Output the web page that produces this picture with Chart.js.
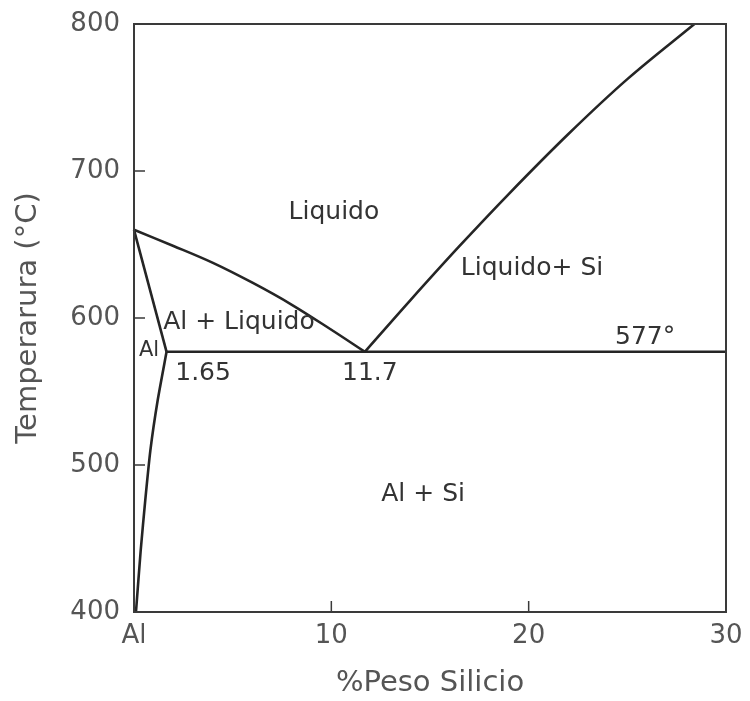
<!DOCTYPE html>
<html>
<head>
<meta charset="utf-8">
<script src="https://cdn.jsdelivr.net/npm/chart.js@4/dist/chart.umd.min.js"></script>
<style>html,body{margin:0;padding:0;background:#fff}canvas{display:block}</style>
</head>
<body>
<canvas id="c" width="750" height="701"></canvas>
<script>
// Liquidus (Al side)
const liqAlX = [0, 2, 4, 6, 8, 10, 11.7];
const liqAlY = [660, 649, 637.5, 624, 609, 592, 577];
// Solidus (Al)
const solX = [0, 1.65];
const solY = [660, 577];
// Solvus (Al)
const solvX = [1.65, 1.2, 0.83, 0.57, 0.34, 0.1];
const solvY = [577, 544, 510, 476, 442, 400];
// Liquidus (Si side)
const liqSiX = [11.7, 14, 16.5, 19, 22, 25, 28.4];
const liqSiY = [577, 612, 649, 684.5, 725, 762.5, 800];
// Eutectic line
const eutX = [1.65, 30];
const eutY = [577, 577];

const xTicks = [0, 10, 20, 30];
const xTickLabels = ['Al', '10', '20', '30'];
const yTicks = [400, 500, 600, 700, 800];

const regionLabels = ['Liquido', 'Liquido+ Si', 'Al + Liquido', 'Al', '1.65', '11.7', '577°', 'Al + Si'];
const regionX = [10.13, 20.17, 5.32, 0.76, 3.5, 11.95, 25.9, 14.65];
const regionY = [672, 634, 596.6, 577.6, 562, 562, 587, 479.6];
const regionSize = [25, 25, 25, 21, 25, 25, 25, 25];

const toPts = (xs, ys) => xs.map((x, i) => ({x, y: ys[i]}));
const lineColor = '#252525';
const mk = (xs, ys, tension) => ({
  data: toPts(xs, ys), showLine: true, borderColor: lineColor, borderWidth: 2.6,
  pointRadius: 0, tension: tension, fill: false, clip: false
});

const FONT = "'DejaVu Sans', sans-serif";

const decor = {
  id: 'decor',
  afterDatasetsDraw(chart) {
    const {ctx, chartArea: a, scales: {x, y}} = chart;
    ctx.save();
    ctx.strokeStyle = '#3a3a3a';
    ctx.lineWidth = 2;
    ctx.strokeRect(a.left, a.top, a.right - a.left, a.bottom - a.top);
    ctx.lineWidth = 1.5;
    ctx.beginPath();
    yTicks.forEach(v => {
      if (v === 400 || v === 800) return;
      const py = y.getPixelForValue(v);
      ctx.moveTo(a.left, py); ctx.lineTo(a.left + 11, py);
    });
    xTicks.forEach(v => {
      if (v === 0 || v === 30) return;
      const px = x.getPixelForValue(v);
      ctx.moveTo(px, a.bottom); ctx.lineTo(px, a.bottom - 11);
    });
    ctx.stroke();
    ctx.fillStyle = '#333';
    ctx.textAlign = 'center';
    ctx.textBaseline = 'middle';
    regionLabels.forEach((t, i) => {
      ctx.font = regionSize[i] + 'px ' + FONT;
      ctx.fillText(t, x.getPixelForValue(regionX[i]), y.getPixelForValue(regionY[i]));
    });
    ctx.restore();
  }
};

new Chart(document.getElementById('c'), {
  type: 'scatter',
  data: {
    datasets: [
      mk(liqAlX, liqAlY, 0.35),
      mk(solX, solY, 0),
      mk(solvX, solvY, 0.2),
      mk(liqSiX, liqSiY, 0.35),
      mk(eutX, eutY, 0)
    ]
  },
  options: {
    responsive: false,
    animation: false,
    devicePixelRatio: 1,
    layout: {padding: {top: 24, right: 24, left: 0, bottom: 0}},
    plugins: {legend: {display: false}, tooltip: {enabled: false}},
    scales: {
      x: {
        type: 'linear', min: 0, max: 30,
        afterFit(s) { s.height = 89; s.paddingLeft = 0; s.paddingRight = 0; },
        afterBuildTicks(s) { s.ticks = xTicks.map(v => ({value: v})); },
        grid: {display: false, drawTicks: false},
        border: {display: false},
        ticks: {
          padding: 9, color: '#555', font: {family: FONT, size: 26},
          callback: (v) => xTickLabels[xTicks.indexOf(v)], maxRotation: 0
        },
        title: {display: true, text: '%Peso Silicio', color: '#555',
          font: {family: FONT, size: 29}, padding: {top: 0, bottom: 0}}
      },
      y: {
        type: 'linear', min: 400, max: 800,
        afterFit(s) { s.width = 134; s.paddingTop = 0; s.paddingBottom = 0; },
        afterBuildTicks(s) { s.ticks = yTicks.map(v => ({value: v})); },
        grid: {display: false, drawTicks: false},
        border: {display: false},
        ticks: {padding: 14, color: '#555', font: {family: FONT, size: 26}},
        title: {display: true, text: 'Temperarura (°C)', color: '#555',
          font: {family: FONT, size: 29}, padding: {top: 11, bottom: 0}}
      }
    }
  },
  plugins: [decor]
});
</script>
</body>
</html>
